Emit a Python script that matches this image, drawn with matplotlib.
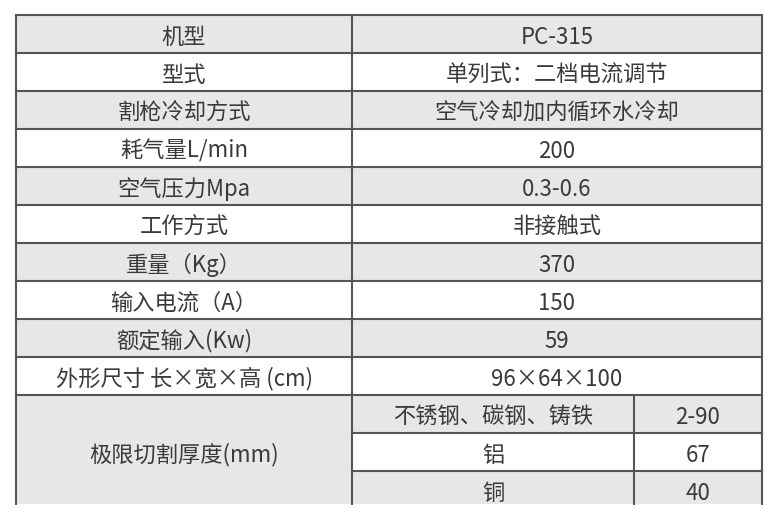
import matplotlib
matplotlib.use("Agg")
import matplotlib.pyplot as plt
from matplotlib.patches import Rectangle

plt.rcParams['font.family'] = ['Noto Sans CJK SC', 'DejaVu Sans']

params = ["机型", "型式", "割枪冷却方式", "耗气量L/min", "空气压力Mpa", "工作方式",
          "重量（Kg）", "输入电流（A）", "额定输入(Kw)", "外形尺寸 长×宽×高 (cm)"]
values = ["PC-315", "单列式：二档电流调节", "空气冷却加内循环水冷却", "200", "0.3-0.6",
          "非接触式", "370", "150", "59", "96×64×100"]
limit_label = "极限切割厚度(mm)"
materials = ["不锈钢、碳钢、铸铁", "铝", "铜"]
thickness = ["2-90", "67", "40"]

W, H = 781, 522
fig = plt.figure(figsize=(W/100, H/100), dpi=100)
ax = fig.add_axes([0, 0, 1, 1])
ax.set_xlim(0, W); ax.set_ylim(H, 0); ax.axis('off')

x0, x1, x2, x3 = 16, 352, 634, 762
y0, rh, ybot = 15, 38, 504
gray, white, lc, tc = '#e6e7e9', 'white', '#555555', '#3a3a3a'
fs = 16
dy = 3

n = len(params)
for i, (p, v) in enumerate(zip(params, values)):
    y = y0 + i*rh
    ax.add_patch(Rectangle((x0, y), x3-x0, rh, fc=gray if i % 2 == 0 else white, ec='none'))
    ax.text((x0+x1)/2, y+rh/2+dy, p, ha='center', va='center', fontsize=fs, color=tc, fontweight='light')
    ax.text((x1+x3)/2, y+rh/2+dy, v, ha='center', va='center', fontsize=fs, color=tc, fontweight='light')
ys = y0 + n*rh
for j, (m, t) in enumerate(zip(materials, thickness)):
    y = ys + j*rh
    h = min(rh, ybot - y)
    ax.add_patch(Rectangle((x1, y), x3-x1, h, fc=gray if j % 2 == 0 else white, ec='none'))
    ax.text((x1+x2)/2, y+rh/2+dy, m, ha='center', va='center', fontsize=fs, color=tc, fontweight='light')
    ax.text((x2+x3)/2, y+rh/2+dy, t, ha='center', va='center', fontsize=fs, color=tc, fontweight='light')
ax.add_patch(Rectangle((x0, ys), x1-x0, ybot-ys, fc=gray, ec='none'))
ax.text((x0+x1)/2, ys+1.5*rh+dy, limit_label, ha='center', va='center', fontsize=fs, color=tc, fontweight='light')

lw = 1.5
for i in range(n+1):
    y = y0 + i*rh
    ax.plot([x0, x3], [y, y], color=lc, lw=lw)
for j in range(1, len(materials)):
    y = ys + j*rh
    ax.plot([x1, x3], [y, y], color=lc, lw=lw)
for x in (x0, x1, x3):
    ax.plot([x, x], [y0, ybot], color=lc, lw=lw)
ax.plot([x2, x2], [ys, ybot], color=lc, lw=lw)

fig.savefig("out.png", dpi=100)
